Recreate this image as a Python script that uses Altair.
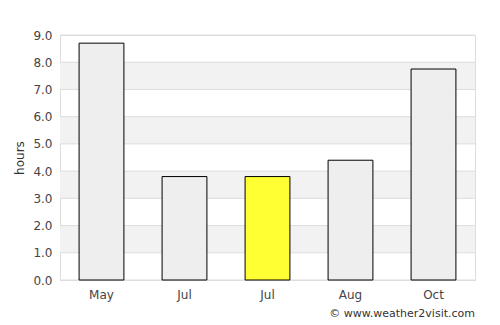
import altair as alt
import pandas as pd

months = ["May", "Jul", "Jul", "Aug", "Oct"]
hours = [8.7, 3.8, 3.8, 4.4, 7.75]
colors = ["#eeeeee", "#eeeeee", "#ffff33", "#eeeeee", "#eeeeee"]
band_lo = [1, 3, 5, 7]
band_hi = [2, 4, 6, 8]
y_ticks = [0, 1, 2, 3, 4, 5, 6, 7, 8, 9]
credit = "© www.weather2visit.com"

df = pd.DataFrame({"idx": list(range(len(months))), "month": months,
                   "hours": hours, "color": colors})
bands = pd.DataFrame({"lo": band_lo, "hi": band_hi})
grid = pd.DataFrame({"v": y_ticks})

label_expr = "[" + ",".join("'%s'" % m for m in months) + "][datum.value]"

yscale = alt.Scale(domain=[0, 9], nice=False)
yaxis = alt.Axis(title="hours", values=y_ticks, format=".1f",
                 ticks=False, labelPadding=8, labelFontSize=12,
                 labelColor="#444444", titleFontSize=12,
                 titleFontWeight="normal", titleColor="#333333",
                 titleFont="DejaVu Sans", labelFont="DejaVu Sans",
                 grid=False, domain=False, titlePadding=6,
                 labelOverlap=False)

band_layer = alt.Chart(bands).mark_rect(color="#f2f2f2").encode(
    y=alt.Y("lo:Q", scale=yscale, axis=yaxis),
    y2="hi:Q",
)

grid_layer = alt.Chart(grid).mark_rule(color="#dddddd", strokeWidth=1).encode(
    y=alt.Y("v:Q", scale=yscale, axis=yaxis),
)

bars = alt.Chart(df).mark_bar(stroke="#000000", strokeWidth=1).encode(
    x=alt.X("idx:O", scale=alt.Scale(paddingInner=0.46, paddingOuter=0.23),
            axis=alt.Axis(title=None, labelExpr=label_expr, labelAngle=0,
                          ticks=False, labelPadding=9, labelFontSize=12,
                          labelColor="#444444", domainColor="#dddddd",
                          labelFont="DejaVu Sans")),
    y=alt.Y("hours:Q", scale=yscale, axis=yaxis),
    color=alt.Color("color:N", scale=None),
)

txt = alt.Chart(pd.DataFrame({"t": [credit]})).mark_text(
    align="right", baseline="middle", fontSize=11, color="#333333",
    font="DejaVu Sans"
).encode(text="t:N", x=alt.value(415), y=alt.value(279))

chart = alt.layer(band_layer, grid_layer, bars, txt).properties(
    width=415, height=245,
    autosize=alt.AutoSizeParams(type="none"),
    padding={"left": 60, "top": 35, "right": 25, "bottom": 45},
).configure_view(stroke="#dddddd")

chart.save("out.html", embed_options={"renderer": "svg", "actions": False})
